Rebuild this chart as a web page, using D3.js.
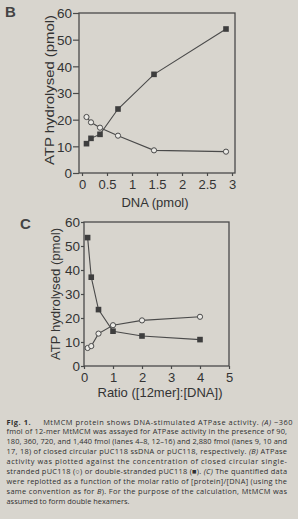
<!DOCTYPE html>
<html>
<head>
<meta charset="utf-8">
<script src="https://cdn.jsdelivr.net/npm/d3@7"></script>
<style>
  html, body { margin: 0; padding: 0; background: #d8d5ce; }
  svg { display: block; }
</style>
</head>
<body>
<div id="chart"></div>
<script>
// panel B: ATP hydrolysed vs DNA (pmol)
var dnaPmol = [0.09, 0.18, 0.36, 0.72, 1.44, 2.88];
var ssB = [21, 19, 17, 14, 8.5, 8];      // open circles, ssDNA
var dsB = [11, 13, 14.5, 24, 37, 54];    // filled squares, dsDNA
var xTicksB = [0, 0.5, 1, 1.5, 2, 2.5, 3];

// panel C: same data vs ratio [12mer]:[DNA]
var ratio = [0.125, 0.25, 0.5, 1, 2, 4];
var ssC = [7.5, 8.3, 13.5, 17, 19, 20.5];
var dsC = [53.5, 37, 23.5, 14.5, 12.5, 11];
var xTicksC = [0, 1, 2, 3, 4, 5];

var yTicks = [0, 10, 20, 30, 40, 50, 60];

var captionLines = [
  [["Fig. 1.", "b"], ["\u2003\u2002MtMCM protein shows DNA-stimulated ATPase activity. ", ""], ["(A)", "i"], [" ~360", ""]],
  [["fmol of 12-mer MtMCM was assayed for ATPase activity in the presence of 90,", ""]],
  [["180, 360, 720, and 1,440 fmol (lanes 4\u20138, 12\u201316) and 2,880 fmol (lanes 9, 10 and", ""]],
  [["17, 18) of closed circular pUC118 ssDNA or pUC118, respectively. ", ""], ["(B)", "i"], [" ATPase", ""]],
  [["activity was plotted against the concentration of closed circular single-", ""]],
  [["stranded pUC118 (\u25CB) or double-stranded pUC118 (\u25A0). ", ""], ["(C)", "i"], [" The quantified data", ""]],
  [["were replotted as a function of the molar ratio of [protein]/[DNA] (using the", ""]],
  [["same convention as for ", ""], ["B", "i"], ["). For the purpose of the calculation, MtMCM was", ""]],
  [["assumed to form double hexamers.", ""]]
];

var W = 298, H = 519;
var ink = "#333", lineCol = "#4a4a4a";
var font = "'Liberation Sans', Arial, sans-serif";

var svg = d3.select("#chart").append("svg")
  .attr("width", W)
  .attr("height", H);

svg.append("rect").attr("width", W).attr("height", H).attr("fill", "#d8d5ce");

function panel(opt) {
  var x = d3.scaleLinear().domain(opt.xDomain).range([opt.left, opt.right]);
  var y = d3.scaleLinear().domain([0, 60]).range([opt.bottom, opt.top]);

  var g = svg.append("g");

  // frame
  g.append("rect")
    .attr("x", opt.left).attr("y", opt.top)
    .attr("width", opt.right - opt.left).attr("height", opt.bottom - opt.top)
    .attr("fill", "none").attr("stroke", lineCol).attr("stroke-width", 1.3);

  var yAxis = g.append("g")
    .attr("transform", "translate(" + opt.left + ",0)")
    .call(d3.axisLeft(y).tickValues(yTicks).tickSize(opt.yTick).tickPadding(1));
  yAxis.select(".domain").remove();
  yAxis.selectAll("line").attr("stroke", lineCol).attr("stroke-width", 1.2);
  yAxis.selectAll("text")
    .attr("fill", ink).style("font", "13.5px " + font).attr("dy", "0.36em");

  var xAxis = g.append("g")
    .attr("transform", "translate(0," + opt.bottom + ")")
    .call(d3.axisBottom(x).tickValues(opt.xTicks).tickSize(3).tickPadding(4)
      .tickFormat(d3.format("")));
  xAxis.select(".domain").remove();
  xAxis.selectAll("line").attr("stroke", lineCol).attr("stroke-width", 1.2);
  xAxis.selectAll("text")
    .attr("fill", ink).style("font", "13px " + font).attr("dy", "0.71em");

  // y label
  g.append("text")
    .attr("transform", "translate(" + opt.yLabelX + "," + opt.yLabelY + ") rotate(-90)")
    .attr("text-anchor", "middle")
    .attr("textLength", opt.yLabelLen).attr("lengthAdjust", "spacingAndGlyphs")
    .attr("fill", ink).style("font", "12px " + font)
    .text("ATP hydrolysed (pmol)");

  // x label
  g.append("text")
    .attr("x", opt.xLabelX).attr("y", opt.xLabelY)
    .attr("text-anchor", "middle")
    .attr("fill", ink).style("font", "13px " + font)
    .text(opt.xLabel);

  // panel letter
  g.append("text")
    .attr("x", opt.letterX).attr("y", opt.letterY)
    .attr("fill", "#444").style("font", "bold 15px " + font)
    .text(opt.letter);

  var line = d3.line().x(function(d) { return x(d[0]); }).y(function(d) { return y(d[1]); });
  var ssPts = d3.zip(opt.xs, opt.ss), dsPts = d3.zip(opt.xs, opt.ds);

  [dsPts, ssPts].forEach(function(pts) {
    g.append("path").datum(pts)
      .attr("d", line)
      .attr("fill", "none").attr("stroke", lineCol).attr("stroke-width", 1.1);
  });

  g.selectAll(".sq").data(dsPts).enter().append("rect")
    .attr("x", function(d) { return x(d[0]) - 2.8; })
    .attr("y", function(d) { return y(d[1]) - 2.8; })
    .attr("width", 5.6).attr("height", 5.6)
    .attr("fill", "#3e3e3e");

  g.selectAll(".ci").data(ssPts).enter().append("circle")
    .attr("cx", function(d) { return x(d[0]); })
    .attr("cy", function(d) { return y(d[1]); })
    .attr("r", 2.6)
    .attr("fill", "#ebeae6").attr("stroke", lineCol).attr("stroke-width", 1);
}

panel({
  left: 79, right: 235, top: 13, bottom: 173,
  xDomain: [-0.06, 3.06], xTicks: xTicksB, yTick: 6,
  xs: dnaPmol, ss: ssB, ds: dsB,
  yLabelX: 54, yLabelY: 90, yLabelLen: 150,
  xLabel: "DNA (pmol)", xLabelX: 155, xLabelY: 207,
  letter: "B", letterX: 5, letterY: 17
});

panel({
  left: 84, right: 229, top: 222, bottom: 366,
  xDomain: [0, 5], xTicks: xTicksC, yTick: 3,
  xs: ratio, ss: ssC, ds: dsC,
  yLabelX: 60, yLabelY: 294, yLabelLen: 132,
  xLabel: "Ratio ([12mer]:[DNA])", xLabelX: 160, xLabelY: 397,
  letter: "C", letterX: 20, letterY: 229
});

// caption, justified lines
var cap = svg.append("g").style("font", "7.4px 'Open Sans', 'Noto Sans', sans-serif").attr("fill", "#2f2f2f");
captionLines.forEach(function(parts, i) {
  var t = cap.append("text")
    .attr("x", 6.5)
    .attr("y", 424.5 + i * 9.9);
  if (i < captionLines.length - 1) {
    t.attr("textLength", i === 0 ? 286 : 280.5).attr("lengthAdjust", "spacing");
  }
  parts.forEach(function(p) {
    t.append("tspan")
      .attr("font-weight", p[1] === "b" ? "bold" : null)
      .attr("font-style", p[1] === "i" ? "italic" : null)
      .text(p[0]);
  });
});
</script>
</body>
</html>
